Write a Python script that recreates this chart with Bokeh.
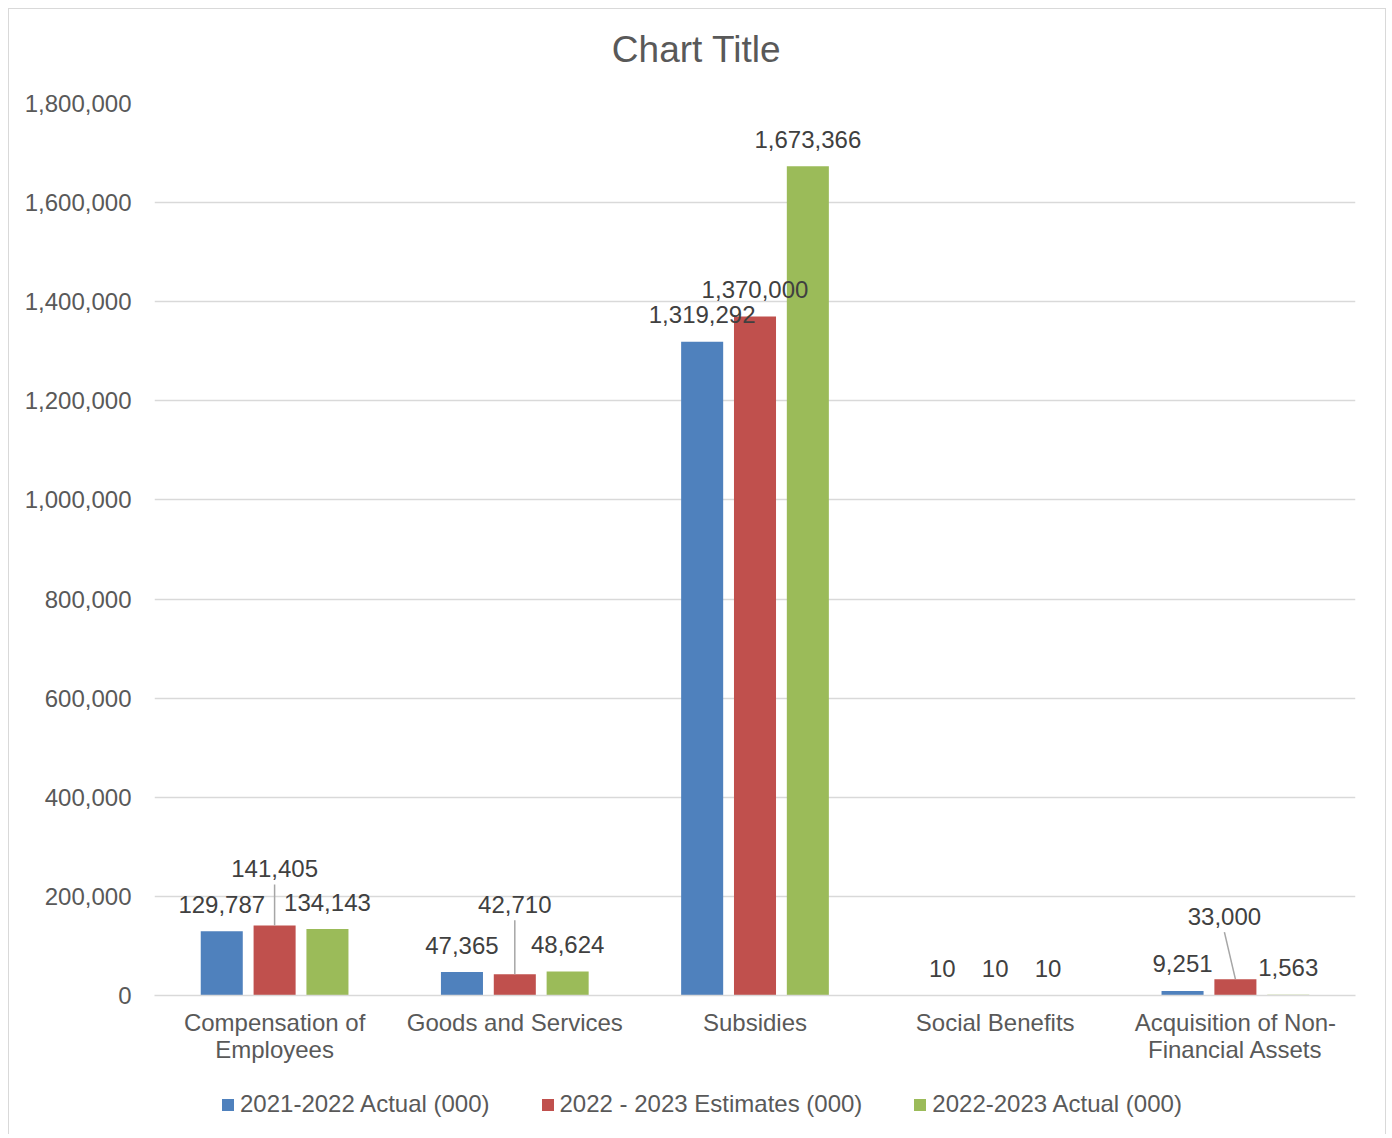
import numpy as np
from bokeh.plotting import figure
from bokeh.layouts import column
from bokeh.models import (ColumnDataSource, FixedTicker, NumeralTickFormatter,
                          Legend, LegendItem, Range1d)
from bokeh.core.properties import value
from bokeh.embed import file_html
from bokeh.resources import INLINE

# ---------------- data ----------------
chart_title = "Chart Title"
categories = ["Compensation of\nEmployees", "Goods and Services", "Subsidies",
              "Social Benefits", "Acquisition of Non-\nFinancial Assets"]
series_names = ["2021-2022 Actual (000)", "2022 - 2023 Estimates (000)",
                "2022-2023 Actual (000)"]
actual_2021_2022 = [129787, 47365, 1319292, 10, 9251]
estimates_2022_2023 = [141405, 42710, 1370000, 10, 33000]
actual_2022_2023 = [134143, 48624, 1673366, 10, 1563]
y_ticks = [0, 200000, 400000, 600000, 800000, 1000000, 1200000, 1400000,
           1600000, 1800000]

series_values = [actual_2021_2022, estimates_2022_2023, actual_2022_2023]

# ---------------- style ----------------
colors = ["#4F81BD", "#C0504D", "#9BBB59"]
bar_offsets = [-0.22, 0.0, 0.22]
bar_width = 0.175
FONT = "Liberation Sans"
FIG_W = 1376
BL, FRAME_W = 145, 1201
BR = FIG_W - BL - FRAME_W
FRAME_H = 892
TOP_B, BOT_B = 32, 79
TITLE_H, LEG_H = 62, 60
Y_MAX = 1800000
label_gap_px = 27
# manually moved labels: (series, category) -> (dx px, extra lift px)
moved = {(1, 0): (0, 30), (1, 1): (0, 43), (1, 4): (-11, 36)}

n = len(categories)
xs = np.arange(n)


def strip(h):
    f = figure(width=FIG_W, height=h, x_range=Range1d(0, FRAME_W), y_range=Range1d(0, h),
               output_backend="svg", toolbar_location=None,
               min_border_left=BL, min_border_right=BR,
               min_border_top=0, min_border_bottom=0)
    f.axis.visible = False
    f.grid.visible = False
    f.outline_line_color = None
    f.border_fill_color = "white"
    return f


# ---------------- title strip ----------------
tf = strip(TITLE_H)
tf.text(x=[FRAME_W / 2], y=[TITLE_H - 39.5], text=[chart_title], x_offset=-58.5,
        text_align="center", text_baseline="middle",
        text_font=value(FONT), text_font_size="37px", text_color="#595959")

# ---------------- main chart ----------------
p = figure(width=FIG_W, height=TOP_B + FRAME_H + BOT_B,
           x_range=Range1d(-0.5, n - 0.5), y_range=Range1d(0, Y_MAX),
           output_backend="svg", toolbar_location=None,
           min_border_left=BL, min_border_right=BR,
           min_border_top=TOP_B, min_border_bottom=BOT_B)
p.outline_line_color = None
p.background_fill_color = "white"
p.border_fill_color = "white"

dpy = Y_MAX / FRAME_H
dpx = n / FRAME_W

lab_x, lab_y, lab_t, lab_dx, lab_dy = [], [], [], [], []
seg_x0, seg_y0, seg_x1, seg_y1 = [], [], [], []
sources = []
for si, vals in enumerate(series_values):
    bx = xs + bar_offsets[si]
    src = ColumnDataSource(dict(x=bx, top=vals))
    sources.append(src)
    p.vbar(x="x", top="top", width=bar_width, bottom=0, source=src,
           fill_color=colors[si], line_color=None)
    for ci, v in enumerate(vals):
        dx, lift = moved.get((si, ci), (0, 0))
        lab_x.append(bx[ci]); lab_y.append(v); lab_t.append(f"{v:,}")
        lab_dx.append(dx); lab_dy.append(-(label_gap_px + lift))
        if (si, ci) in moved:
            seg_x0.append(bx[ci]); seg_y0.append(v)
            seg_x1.append(bx[ci] + dx * dpx)
            seg_y1.append(v + (label_gap_px + lift - 16) * dpy)

p.segment(x0=seg_x0, y0=seg_y0, x1=seg_x1, y1=seg_y1,
          line_color="#a6a6a6", line_width=1.5)
lsrc = ColumnDataSource(dict(x=lab_x, y=lab_y, t=lab_t, dx=lab_dx, dy=lab_dy))
p.text(x="x", y="y", text="t", x_offset="dx", y_offset="dy", source=lsrc,
       text_align="center", text_baseline="middle",
       text_font=value(FONT), text_font_size="24px", text_color="#404040")

# axes
p.yaxis.ticker = FixedTicker(ticks=y_ticks)
p.yaxis.formatter = NumeralTickFormatter(format="0,0")
p.yaxis.axis_line_color = None
p.yaxis.major_tick_line_color = None
p.yaxis.minor_tick_line_color = None
p.yaxis.major_label_standoff = 17
p.yaxis.major_label_text_font = FONT
p.yaxis.major_label_text_font_size = "24px"
p.yaxis.major_label_text_color = "#595959"

p.xaxis.ticker = FixedTicker(ticks=list(range(n)))
p.xaxis.major_label_overrides = {i: c for i, c in enumerate(categories)}
p.xaxis.axis_line_color = "#d9d9d9"
p.xaxis.axis_line_width = 1.5
p.xaxis.major_tick_line_color = None
p.xaxis.minor_tick_line_color = None
p.xaxis.major_label_standoff = 7
p.xaxis.major_label_text_line_height = 1.0
p.xaxis.major_label_text_font = FONT
p.xaxis.major_label_text_font_size = "24px"
p.xaxis.major_label_text_color = "#595959"

p.xgrid.grid_line_color = None
p.ygrid.ticker = FixedTicker(ticks=y_ticks)
p.ygrid.grid_line_color = "#d9d9d9"
p.ygrid.grid_line_width = 1.5

# ---------------- legend strip ----------------
lf = strip(LEG_H)
# hidden proxies of the three series: only their legend swatches are shown
leg_renderers = [lf.vbar(x="x", top="top", width=bar_width, source=sources[i],
                         fill_color=colors[i], line_color=None, visible=False)
                 for i in range(3)]
legend = Legend(items=[LegendItem(label=series_names[i], renderers=[leg_renderers[i]])
                       for i in range(3)],
                orientation="horizontal", location=(66, 16),
                glyph_width=15, glyph_height=15, label_standoff=5, spacing=50,
                label_text_font=FONT, label_text_font_size="24px",
                label_text_color="#595959", border_line_color=None,
                background_fill_alpha=0, padding=0, margin=0,
                inactive_fill_alpha=0)
lf.add_layout(legend, "center")

layout = column(tf, p, lf, spacing=0)
layout.margin = (8, 0, 0, 8)
layout.styles = {"border-top": "1.5px solid #d9d9d9",
                 "border-left": "1.5px solid #d9d9d9",
                 "border-right": "1.5px solid #d9d9d9"}

open("out.html", "w").write(file_html(layout, INLINE))
